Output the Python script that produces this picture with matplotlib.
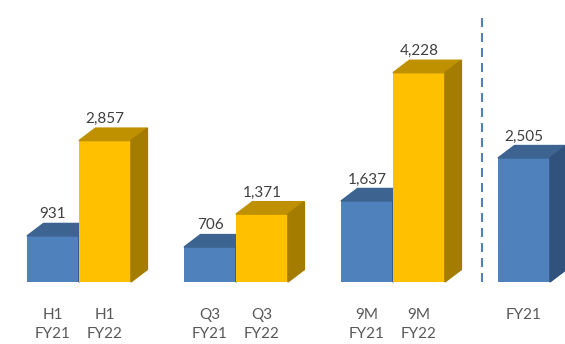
import matplotlib
matplotlib.use("Agg")
import matplotlib.pyplot as plt
from matplotlib.patches import Polygon

# data
periods = ["H1", "Q3", "9M", "FY"]
fy21 = [931, 706, 1637, 2505]
fy22 = [2857, 1371, 4228, None]
labels21 = ["H1\nFY21", "Q3\nFY21", "9M\nFY21", "FY21"]
labels22 = ["H1\nFY22", "Q3\nFY22", "9M\nFY22", ""]

# front, top, side shades
BLUE = ("#4F81BD", "#3D6491", "#30527D")
GOLD = ("#FFC000", "#BF9000", "#A47C00")

plt.rcParams["font.family"] = ["Lato", "DejaVu Sans"]
plt.rcParams["font.size"] = 11

W, H = 565, 344
fig = plt.figure(figsize=(W / 100, H / 100), dpi=100)
ax = fig.add_axes([0, 0, 1, 1])
ax.set_xlim(-0.503, 3.096)
ax.set_ylim(-1252, 5697)
ax.axis("off")

# depth of the fake 3d in data units
px_x = (3.096 + 0.503) / W
px_y = (5697 + 1252) / H
dx = 16.5 * px_x
dy = 12.5 * px_y
w = 0.331


def bar3d(x0, h, cols, lab, z):
    ax.bar(x0, h, width=w, align="edge", color=cols[0], zorder=z)
    top = Polygon([(x0, h), (x0 + w, h), (x0 + w + dx, h + dy), (x0 + dx, h + dy)],
                  closed=True, color=cols[1], zorder=z)
    side = Polygon([(x0 + w, 0), (x0 + w + dx, dy), (x0 + w + dx, h + dy), (x0 + w, h)],
                   closed=True, color=cols[2], zorder=z)
    ax.add_patch(top)
    ax.add_patch(side)
    ax.annotate(f"{h:,}", (x0 + w / 2, h + dy), xytext=(0, 1.5),
                textcoords="offset points", ha="center", va="bottom",
                color="#404040", zorder=10)
    ax.annotate(lab, (x0 + w / 2, 0), xytext=(0, -19),
                textcoords="offset points", ha="center", va="top",
                color="#595959", linespacing=1.45)


for i in range(len(periods)):
    bar3d(i - w, fy21[i], BLUE, labels21[i], 2 * i + 1)
    if fy22[i] is not None:
        bar3d(i, fy22[i], GOLD, labels22[i], 2 * i + 2)

# separator before full-year figure
ax.axvline(2.565, ymin=62 / H, ymax=332 / H, color="#4F81BD", lw=1.5,
           dashes=(4.3, 2.9), zorder=0)

fig.savefig("out.png", dpi=100)
